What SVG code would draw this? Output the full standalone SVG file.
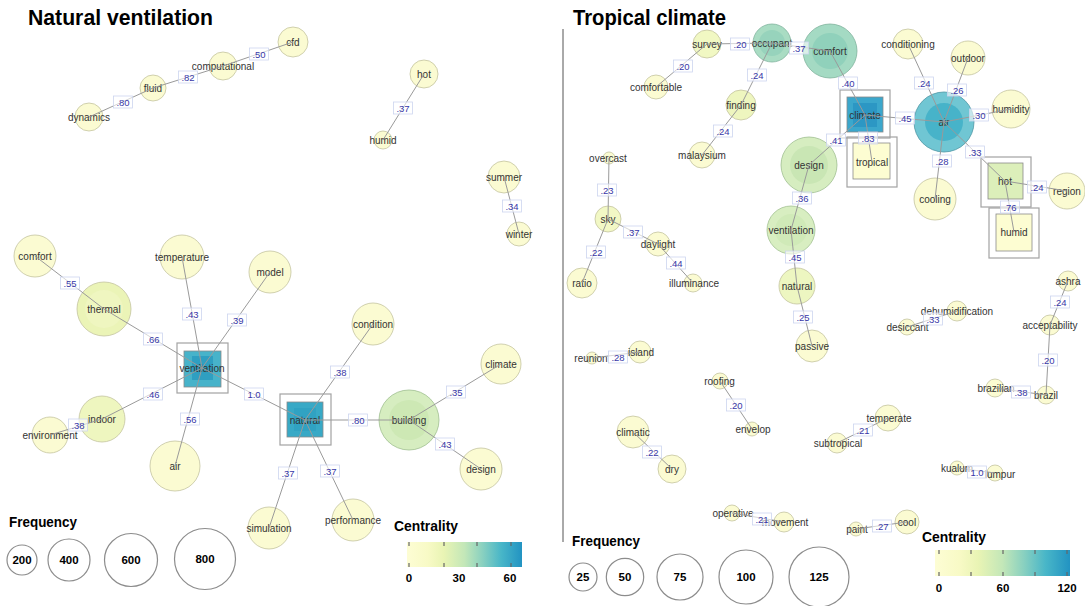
<svg xmlns="http://www.w3.org/2000/svg" width="1085" height="606" viewBox="0 0 1085 606">
  <defs>
    <linearGradient id="cent" x1="0" y1="0" x2="1" y2="0">
      <stop offset="0" stop-color="#fdfdd4"/>
      <stop offset="0.18" stop-color="#f8fac6"/>
      <stop offset="0.32" stop-color="#e9f4b4"/>
      <stop offset="0.5" stop-color="#c3e7b8"/>
      <stop offset="0.66" stop-color="#88d0c0"/>
      <stop offset="0.82" stop-color="#48b6c8"/>
      <stop offset="1" stop-color="#2293c2"/>
    </linearGradient>
    <style>
      .e { stroke:#9a9a9a; stroke-width:1; fill:none; }
      .n { fill:#fbfbd2; stroke:#c4c4a0; stroke-width:0.8; }
      .in { stroke:none; }
      .fr { fill:none; stroke:#a2a2a2; stroke-width:1.2; }
      .sq { stroke:#8a8a8a; stroke-width:0.8; }
      .t { font-family:"Liberation Sans",Arial,sans-serif; font-size:10px; fill:#333; text-anchor:middle; }
      .lb rect { fill:#ffffff; fill-opacity:0.6; stroke:#cdd5ef; stroke-width:0.8; }
      .lb text { font-family:"Liberation Sans",Arial,sans-serif; font-size:9.5px; fill:#3838a8; text-anchor:middle; }
      .title { font-family:"Liberation Sans",Arial,sans-serif; font-weight:bold; font-size:21.5px; fill:#000; }
      .lg { font-family:"Liberation Sans",Arial,sans-serif; font-weight:bold; font-size:14.5px; fill:#000; }
      .lgn { font-family:"Liberation Sans",Arial,sans-serif; font-weight:bold; font-size:11.5px; fill:#000; text-anchor:middle; }
      .lc { fill:#fff; stroke:#8c8c8c; stroke-width:1.2; }
      .tk { stroke:#666; stroke-width:1.2; }
    </style>
  </defs>

  <rect width="1085" height="606" fill="#ffffff"/>

  <!-- titles and divider -->
  <text class="title" x="28" y="25" textLength="185" lengthAdjust="spacingAndGlyphs">Natural ventilation</text>
  <text class="title" x="573" y="25" textLength="153" lengthAdjust="spacingAndGlyphs">Tropical climate</text>
  <line x1="563" y1="29" x2="563" y2="542" stroke="#555" stroke-width="1"/>

  <!-- ===== left network: nodes ===== -->
  <g id="nodes-left">
    <g id="n-cfd"><circle class="n" cx="293" cy="42" r="15"/><text class="t" x="293" y="45.5">cfd</text></g>
    <g id="n-computational"><circle class="n" cx="223" cy="66" r="14"/><text class="t" x="223" y="69.5">computational</text></g>
    <g id="n-fluid"><circle class="n" cx="153" cy="88" r="13"/><text class="t" x="153" y="91.5">fluid</text></g>
    <g id="n-dynamics"><circle class="n" cx="89" cy="117" r="14"/><text class="t" x="89" y="120.5">dynamics</text></g>
    <g id="n-hot"><circle class="n" cx="424" cy="74" r="14"/><text class="t" x="424" y="77.5">hot</text></g>
    <g id="n-humid"><circle class="n" cx="383" cy="140" r="9"/><text class="t" x="383" y="143.5">humid</text></g>
    <g id="n-summer"><circle class="n" cx="504" cy="177" r="16"/><text class="t" x="504" y="180.5">summer</text></g>
    <g id="n-winter"><circle class="n" cx="519" cy="234" r="12"/><text class="t" x="519" y="237.5">winter</text></g>
    <g id="n-comfort"><circle class="n" cx="35" cy="256" r="21"/><text class="t" x="35" y="259.5">comfort</text></g>
    <g id="n-thermal"><circle class="n" cx="104" cy="309" r="27" style="fill:#ebf4b7"/><circle class="in" cx="104" cy="309" r="19" fill="#eff6c0"/><text class="t" x="104" y="312.5">thermal</text></g>
    <g id="n-temperature"><circle class="n" cx="182" cy="257" r="22"/><text class="t" x="182" y="260.5">temperature</text></g>
    <g id="n-model"><circle class="n" cx="270" cy="272" r="21"/><text class="t" x="270" y="275.5">model</text></g>
    <g id="n-indoor"><circle class="n" cx="102" cy="419" r="23" style="fill:#eef6bf"/><text class="t" x="102" y="422.5">indoor</text></g>
    <g id="n-environment"><circle class="n" cx="50" cy="435" r="18"/><text class="t" x="50" y="438.5">environment</text></g>
    <g id="n-air"><circle class="n" cx="175" cy="466" r="25"/><text class="t" x="175" y="469.5">air</text></g>
    <g id="n-condition"><circle class="n" cx="373" cy="324" r="21"/><text class="t" x="373" y="327.5">condition</text></g>
    <g id="n-climate"><circle class="n" cx="501" cy="364" r="20"/><text class="t" x="501" y="367.5">climate</text></g>
    <g id="n-building"><circle class="n" cx="409" cy="420" r="30" style="fill:#d6edc0;stroke:#9fbf90"/><circle class="in" cx="409" cy="420" r="20" fill="#cde8b4"/><text class="t" x="409" y="423.5">building</text></g>
    <g id="n-design"><circle class="n" cx="481" cy="469" r="21"/><text class="t" x="481" y="472.5">design</text></g>
    <g id="n-simulation"><circle class="n" cx="269" cy="528" r="21"/><text class="t" x="269" y="531.5">simulation</text></g>
    <g id="n-performance"><circle class="n" cx="353" cy="520" r="21"/><text class="t" x="353" y="523.5">performance</text></g>
    <g id="n-ventilation">
      <rect class="fr" x="177" y="343" width="51" height="50"/>
      <rect class="sq" x="184" y="351" width="37" height="36" fill="#47b3ca"/>
      <rect class="in" x="192" y="356" width="21" height="24" fill="#2f9fc1"/>
      <text class="t" x="202" y="372">ventilation</text>
    </g>
    <g id="n-natural">
      <rect class="fr" x="280" y="394" width="51" height="51"/>
      <rect class="sq" x="287" y="402" width="36" height="35" fill="#38a9c6"/>
      <rect class="in" x="294" y="408" width="22" height="23" fill="#30a2c2"/>
      <text class="t" x="305" y="423.5">natural</text>
    </g>
  </g>

  <!-- ===== right network: nodes ===== -->
  <g id="nodes-right">
    <g id="n2-survey"><circle class="n" cx="707" cy="44" r="14" style="fill:#f1f8c3"/><text class="t" x="707" y="47.5">survey</text></g>
    <g id="n2-occupant"><circle class="n" cx="772" cy="43" r="19" style="fill:#a9dcc3;stroke:#82b49e"/><circle class="in" cx="772" cy="43" r="13" fill="#97d3bc"/><text class="t" x="772" y="46.5">occupant</text></g>
    <g id="n2-comfortable"><circle class="n" cx="656" cy="87" r="12"/><text class="t" x="656" y="90.5">comfortable</text></g>
    <g id="n2-finding"><circle class="n" cx="741" cy="105" r="15" style="fill:#eef6bf"/><text class="t" x="741" y="108.5">finding</text></g>
    <g id="n2-malaysium"><circle class="n" cx="702" cy="155" r="13"/><text class="t" x="702" y="158.5">malaysium</text></g>
    <g id="n2-overcast"><circle class="n" cx="609" cy="158" r="6"/><text class="t" x="608" y="161.5">overcast</text></g>
    <g id="n2-comfort"><circle class="n" cx="830" cy="51" r="27" style="fill:#a4dac3;stroke:#7fb39c"/><circle class="in" cx="830" cy="51" r="18" fill="#90d1bb"/><text class="t" x="830" y="54.5">comfort</text></g>
    <g id="n2-conditioning"><circle class="n" cx="908" cy="44" r="15"/><text class="t" x="908" y="47.5">conditioning</text></g>
    <g id="n2-outdoor"><circle class="n" cx="968" cy="58" r="17"/><text class="t" x="968" y="61.5">outdoor</text></g>
    <g id="n2-humidity"><circle class="n" cx="1011" cy="109" r="19"/><text class="t" x="1011" y="112.5">humidity</text></g>
    <g id="n2-air"><circle class="n" cx="944" cy="122" r="30" style="fill:#70c6d3;stroke:#4f97a5"/><circle class="in" cx="944" cy="122" r="19" fill="#47b3c9"/><text class="t" x="944" y="125.5">air</text></g>
    <g id="n2-design"><circle class="n" cx="809" cy="165" r="28" style="fill:#d6edc0;stroke:#9fbf90"/><circle class="in" cx="809" cy="165" r="19" fill="#c9e6b4"/><text class="t" x="809" y="168.5">design</text></g>
    <g id="n2-cooling"><circle class="n" cx="935" cy="199" r="21"/><text class="t" x="935" y="202.5">cooling</text></g>
    <g id="n2-region"><circle class="n" cx="1067" cy="191" r="18"/><text class="t" x="1067" y="194.5">region</text></g>
    <g id="n2-ventilation"><circle class="n" cx="791" cy="230" r="24" style="fill:#d8eec1;stroke:#a3c293"/><circle class="in" cx="791" cy="230" r="16" fill="#d0eab8"/><text class="t" x="791" y="233.5">ventilation</text></g>
    <g id="n2-natural"><circle class="n" cx="797" cy="286" r="18" style="fill:#edf6c1"/><text class="t" x="797" y="289.5">natural</text></g>
    <g id="n2-passive"><circle class="n" cx="812" cy="346" r="16"/><text class="t" x="812" y="349.5">passive</text></g>
    <g id="n2-sky"><circle class="n" cx="608" cy="219" r="13" style="fill:#f2f8c5"/><text class="t" x="608" y="222.5">sky</text></g>
    <g id="n2-ratio"><circle class="n" cx="582" cy="283" r="15"/><text class="t" x="582" y="286.5">ratio</text></g>
    <g id="n2-daylight"><circle class="n" cx="658" cy="244" r="12"/><text class="t" x="658" y="247.5">daylight</text></g>
    <g id="n2-illuminance"><circle class="n" cx="693" cy="283" r="9"/><text class="t" x="694" y="286.5">illuminance</text></g>
    <g id="n2-reunion"><circle class="n" cx="592" cy="358" r="6"/><text class="t" x="591" y="361.5">reunion</text></g>
    <g id="n2-island"><circle class="n" cx="640" cy="352" r="11"/><text class="t" x="641" y="355.5">island</text></g>
    <g id="n2-roofing"><circle class="n" cx="720" cy="381" r="8"/><text class="t" x="719.5" y="384.5">roofing</text></g>
    <g id="n2-envelop"><circle class="n" cx="752" cy="429" r="7"/><text class="t" x="753" y="432.5">envelop</text></g>
    <g id="n2-climatic"><circle class="n" cx="633" cy="432" r="16"/><text class="t" x="633" y="435.5">climatic</text></g>
    <g id="n2-dry"><circle class="n" cx="672" cy="469" r="14"/><text class="t" x="672" y="472.5">dry</text></g>
    <g id="n2-subtropical"><circle class="n" cx="837" cy="443" r="10"/><text class="t" x="838" y="446.5">subtropical</text></g>
    <g id="n2-temperate"><circle class="n" cx="888" cy="418" r="13"/><text class="t" x="889" y="421.5">temperate</text></g>
    <g id="n2-desiccant"><circle class="n" cx="907" cy="327" r="8"/><text class="t" x="907.5" y="330.5">desiccant</text></g>
    <g id="n2-dehumidification"><circle class="n" cx="957" cy="311" r="10"/><text class="t" x="957" y="314.5">dehumidification</text></g>
    <g id="n2-ashra"><circle class="n" cx="1068" cy="281" r="10"/><text class="t" x="1068" y="284.5">ashra</text></g>
    <g id="n2-acceptability"><circle class="n" cx="1050" cy="325" r="10"/><text class="t" x="1050" y="328.5">acceptability</text></g>
    <g id="n2-brazilian"><circle class="n" cx="995" cy="388" r="9"/><text class="t" x="996" y="391.5">brazilian</text></g>
    <g id="n2-brazil"><circle class="n" cx="1046" cy="395" r="9"/><text class="t" x="1046" y="398.5">brazil</text></g>
    <g id="n2-kualum"><circle class="n" cx="957" cy="468" r="7"/><text class="t" x="957" y="471.5">kualum</text></g>
    <g id="n2-lumpur"><circle class="n" cx="995" cy="473" r="8"/><text class="t" x="1000" y="478">lumpur</text></g>
    <g id="n2-operative"><circle class="n" cx="732" cy="513" r="8"/><text class="t" x="733" y="516.5">operative</text></g>
    <g id="n2-movement"><circle class="n" cx="784" cy="522" r="10"/><text class="t" x="785" y="525.5">movement</text></g>
    <g id="n2-paint"><circle class="n" cx="856" cy="529" r="7"/><text class="t" x="857" y="532.5">paint</text></g>
    <g id="n2-cool"><circle class="n" cx="907" cy="522" r="12"/><text class="t" x="907" y="525.5">cool</text></g>
    <g id="n2-climate">
      <rect class="fr" x="840" y="90" width="50" height="48"/>
      <rect class="sq" x="847" y="97" width="36" height="35" fill="#3ba7cc"/>
      <rect class="in" x="853" y="103" width="24" height="24" fill="#2c97c4"/>
      <text class="t" x="865" y="118.5">climate</text>
    </g>
    <g id="n2-tropical">
      <rect class="fr" x="847" y="137" width="50" height="50"/>
      <rect class="sq" x="853" y="143" width="37" height="36" fill="#fdfdd2"/>
      <text class="t" x="872" y="165.5">tropical</text>
    </g>
    <g id="n2-hot">
      <rect class="fr" x="981" y="157" width="50" height="50"/>
      <rect class="sq" x="988" y="163" width="35" height="36" fill="#dcefba"/>
      <text class="t" x="1005" y="184.5">hot</text>
    </g>
    <g id="n2-humid">
      <rect class="fr" x="989" y="208" width="50" height="50"/>
      <rect class="sq" x="996" y="214" width="36" height="37" fill="#fdfdd2"/>
      <text class="t" x="1014" y="235.5">humid</text>
    </g>
  </g>

  <!-- ===== connectors ===== -->
  <g id="connectors">
    <g id="edges-left" class="e">
      <line x1="89" y1="117" x2="153" y2="88"/>
      <line x1="153" y1="88" x2="223" y2="66"/>
      <line x1="223" y1="66" x2="293" y2="42"/>
      <line x1="424" y1="74" x2="383" y2="140"/>
      <line x1="504" y1="177" x2="519" y2="234"/>
      <line x1="35" y1="256" x2="104" y2="309"/>
      <line x1="104" y1="309" x2="202" y2="368"/>
      <line x1="182" y1="257" x2="202" y2="368"/>
      <line x1="270" y1="272" x2="202" y2="368"/>
      <line x1="102" y1="419" x2="202" y2="368"/>
      <line x1="50" y1="435" x2="102" y2="419"/>
      <line x1="175" y1="466" x2="202" y2="368"/>
      <line x1="202" y1="368" x2="305" y2="420"/>
      <line x1="305" y1="420" x2="373" y2="324"/>
      <line x1="305" y1="420" x2="409" y2="420"/>
      <line x1="305" y1="420" x2="269" y2="528"/>
      <line x1="305" y1="420" x2="353" y2="520"/>
      <line x1="409" y1="420" x2="501" y2="364"/>
      <line x1="409" y1="420" x2="481" y2="469"/>
    </g>
    <g id="edges-right" class="e">
      <line x1="707" y1="44" x2="772" y2="43"/>
      <line x1="772" y1="43" x2="830" y2="51"/>
      <line x1="707" y1="44" x2="656" y2="87"/>
      <line x1="772" y1="43" x2="741" y2="105"/>
      <line x1="741" y1="105" x2="702" y2="155"/>
      <line x1="830" y1="51" x2="865" y2="115"/>
      <line x1="865" y1="115" x2="944" y2="122"/>
      <line x1="865" y1="115" x2="809" y2="165"/>
      <line x1="865" y1="115" x2="872" y2="162"/>
      <line x1="944" y1="122" x2="908" y2="44"/>
      <line x1="944" y1="122" x2="968" y2="58"/>
      <line x1="944" y1="122" x2="1011" y2="109"/>
      <line x1="944" y1="122" x2="1005" y2="181"/>
      <line x1="944" y1="122" x2="935" y2="199"/>
      <line x1="1005" y1="181" x2="1067" y2="191"/>
      <line x1="1005" y1="181" x2="1014" y2="232"/>
      <line x1="809" y1="165" x2="791" y2="230"/>
      <line x1="791" y1="230" x2="797" y2="286"/>
      <line x1="797" y1="286" x2="812" y2="346"/>
      <line x1="609" y1="158" x2="608" y2="219"/>
      <line x1="608" y1="219" x2="582" y2="283"/>
      <line x1="608" y1="219" x2="658" y2="244"/>
      <line x1="658" y1="244" x2="693" y2="283"/>
      <line x1="592" y1="358" x2="640" y2="352"/>
      <line x1="720" y1="381" x2="752" y2="429"/>
      <line x1="633" y1="432" x2="672" y2="469"/>
      <line x1="837" y1="443" x2="888" y2="418"/>
      <line x1="907" y1="327" x2="957" y2="311"/>
      <line x1="1068" y1="281" x2="1050" y2="325"/>
      <line x1="1050" y1="325" x2="1046" y2="395"/>
      <line x1="995" y1="388" x2="1046" y2="395"/>
      <line x1="957" y1="468" x2="995" y2="473"/>
      <line x1="732" y1="513" x2="784" y2="522"/>
      <line x1="856" y1="529" x2="907" y2="522"/>
    </g>

    <!-- edge weight labels -->
    <g id="weights-left" class="lb">
      <g><rect x="113.5" y="96" width="19" height="12"/><text x="123" y="105.5">.80</text></g>
      <g><rect x="178.5" y="71" width="19" height="12"/><text x="188" y="80.5">.82</text></g>
      <g><rect x="249.5" y="48" width="19" height="12"/><text x="259" y="57.5">.50</text></g>
      <g><rect x="393.5" y="102" width="19" height="12"/><text x="403" y="111.5">.37</text></g>
      <g><rect x="502.5" y="200" width="19" height="12"/><text x="512" y="209.5">.34</text></g>
      <g><rect x="60.5" y="277" width="19" height="12"/><text x="70" y="286.5">.55</text></g>
      <g><rect x="143.5" y="333" width="19" height="12"/><text x="153" y="342.5">.66</text></g>
      <g><rect x="182.5" y="308" width="19" height="12"/><text x="192" y="317.5">.43</text></g>
      <g><rect x="227.5" y="314" width="19" height="12"/><text x="237" y="323.5">.39</text></g>
      <g><rect x="143.5" y="388" width="19" height="12"/><text x="153" y="397.5">.46</text></g>
      <g><rect x="68.5" y="419" width="19" height="12"/><text x="78" y="428.5">.38</text></g>
      <g><rect x="180.5" y="413" width="19" height="12"/><text x="190" y="422.5">.56</text></g>
      <g><rect x="244.5" y="388" width="19" height="12"/><text x="254" y="397.5">1.0</text></g>
      <g><rect x="330.5" y="366" width="19" height="12"/><text x="340" y="375.5">.38</text></g>
      <g><rect x="348.5" y="414" width="19" height="12"/><text x="358" y="423.5">.80</text></g>
      <g><rect x="446.5" y="386" width="19" height="12"/><text x="456" y="395.5">.35</text></g>
      <g><rect x="435.5" y="438" width="19" height="12"/><text x="445" y="447.5">.43</text></g>
      <g><rect x="278.5" y="467" width="19" height="12"/><text x="288" y="476.5">.37</text></g>
      <g><rect x="320.5" y="465" width="19" height="12"/><text x="330" y="474.5">.37</text></g>
    </g>
    <g id="weights-right" class="lb">
      <g><rect x="730.5" y="38" width="19" height="12"/><text x="740" y="47.5">.20</text></g>
      <g><rect x="789.5" y="42" width="19" height="12"/><text x="799" y="51.5">.37</text></g>
      <g><rect x="673.5" y="60" width="19" height="12"/><text x="683" y="69.5">.20</text></g>
      <g><rect x="747.5" y="69" width="19" height="12"/><text x="757" y="78.5">.24</text></g>
      <g><rect x="713.5" y="125" width="19" height="12"/><text x="723" y="134.5">.24</text></g>
      <g><rect x="838.5" y="77" width="19" height="12"/><text x="848" y="86.5">.40</text></g>
      <g><rect x="895.5" y="112" width="19" height="12"/><text x="905" y="121.5">.45</text></g>
      <g><rect x="914.5" y="77" width="19" height="12"/><text x="924" y="86.5">.24</text></g>
      <g><rect x="947.5" y="84" width="19" height="12"/><text x="957" y="93.5">.26</text></g>
      <g><rect x="969.5" y="109" width="19" height="12"/><text x="979" y="118.5">.30</text></g>
      <g><rect x="826.5" y="134" width="19" height="12"/><text x="836" y="143.5">.41</text></g>
      <g><rect x="858.5" y="132" width="19" height="12"/><text x="868" y="141.5">.83</text></g>
      <g><rect x="965.5" y="146" width="19" height="12"/><text x="975" y="155.5">.33</text></g>
      <g><rect x="932.5" y="155" width="19" height="12"/><text x="942" y="164.5">.28</text></g>
      <g><rect x="1027.5" y="181" width="19" height="12"/><text x="1037" y="190.5">.24</text></g>
      <g><rect x="1000.5" y="201" width="19" height="12"/><text x="1010" y="210.5">.76</text></g>
      <g><rect x="792.5" y="192" width="19" height="12"/><text x="802" y="201.5">.36</text></g>
      <g><rect x="785.5" y="251" width="19" height="12"/><text x="795" y="260.5">.45</text></g>
      <g><rect x="793.5" y="311" width="19" height="12"/><text x="803" y="320.5">.25</text></g>
      <g><rect x="597.5" y="184" width="19" height="12"/><text x="607" y="193.5">.23</text></g>
      <g><rect x="586.5" y="246" width="19" height="12"/><text x="596" y="255.5">.22</text></g>
      <g><rect x="623.5" y="226" width="19" height="12"/><text x="633" y="235.5">.37</text></g>
      <g><rect x="666.5" y="257" width="19" height="12"/><text x="676" y="266.5">.44</text></g>
      <g><rect x="608.5" y="351" width="19" height="12"/><text x="618" y="360.5">.28</text></g>
      <g><rect x="726.5" y="399" width="19" height="12"/><text x="736" y="408.5">.20</text></g>
      <g><rect x="642.5" y="446" width="19" height="12"/><text x="652" y="455.5">.22</text></g>
      <g><rect x="853.5" y="424" width="19" height="12"/><text x="863" y="433.5">.21</text></g>
      <g><rect x="923.5" y="313" width="19" height="12"/><text x="933" y="322.5">.33</text></g>
      <g><rect x="1050.5" y="296" width="19" height="12"/><text x="1060" y="305.5">.24</text></g>
      <g><rect x="1038.5" y="354" width="19" height="12"/><text x="1048" y="363.5">.20</text></g>
      <g><rect x="1011.5" y="386" width="19" height="12"/><text x="1021" y="395.5">.38</text></g>
      <g><rect x="967.5" y="466" width="19" height="12"/><text x="977" y="475.5">1.0</text></g>
      <g><rect x="752.5" y="513" width="19" height="12"/><text x="762" y="522.5">.21</text></g>
      <g><rect x="872.5" y="520" width="19" height="12"/><text x="882" y="529.5">.27</text></g>
    </g>
  </g>

  <!-- ===== legends ===== -->
  <g id="legend-left">
    <text class="lg" x="9" y="527" textLength="68" lengthAdjust="spacingAndGlyphs">Frequency</text>
    <circle class="lc" cx="22" cy="560" r="15"/><text class="lgn" x="22" y="564">200</text>
    <circle class="lc" cx="69" cy="560" r="21"/><text class="lgn" x="69" y="564">400</text>
    <circle class="lc" cx="131" cy="560" r="26.5"/><text class="lgn" x="131" y="564">600</text>
    <circle class="lc" cx="205" cy="559" r="30.5"/><text class="lgn" x="205" y="563">800</text>
    <text class="lg" x="394" y="531" textLength="64" lengthAdjust="spacingAndGlyphs">Centrality</text>
    <rect x="407" y="542" width="115" height="25" fill="url(#cent)"/>
    <g class="tk">
      <line x1="409" y1="542" x2="409" y2="546"/><line x1="409" y1="563" x2="409" y2="567"/>
      <line x1="444" y1="542" x2="444" y2="546"/><line x1="444" y1="563" x2="444" y2="567"/>
      <line x1="477" y1="542" x2="477" y2="546"/><line x1="477" y1="563" x2="477" y2="567"/>
      <line x1="511" y1="542" x2="511" y2="546"/><line x1="511" y1="563" x2="511" y2="567"/>
    </g>
    <text class="lgn" x="409" y="582">0</text>
    <text class="lgn" x="459" y="582">30</text>
    <text class="lgn" x="510" y="582">60</text>
  </g>

  <g id="legend-right">
    <text class="lg" x="572" y="546" textLength="68" lengthAdjust="spacingAndGlyphs">Frequency</text>
    <circle class="lc" cx="583" cy="577" r="14"/><text class="lgn" x="583" y="581">25</text>
    <circle class="lc" cx="625" cy="577" r="18.7"/><text class="lgn" x="625" y="581">50</text>
    <circle class="lc" cx="680" cy="577" r="23"/><text class="lgn" x="680" y="581">75</text>
    <circle class="lc" cx="746" cy="577" r="27"/><text class="lgn" x="746" y="581">100</text>
    <circle class="lc" cx="819" cy="577" r="30"/><text class="lgn" x="819" y="581">125</text>
    <text class="lg" x="922" y="542" textLength="64" lengthAdjust="spacingAndGlyphs">Centrality</text>
    <rect x="935" y="550" width="135" height="26" fill="url(#cent)"/>
    <g class="tk">
      <line x1="939" y1="550" x2="939" y2="554"/><line x1="939" y1="572" x2="939" y2="576"/>
      <line x1="971" y1="550" x2="971" y2="554"/><line x1="971" y1="572" x2="971" y2="576"/>
      <line x1="1003" y1="550" x2="1003" y2="554"/><line x1="1003" y1="572" x2="1003" y2="576"/>
      <line x1="1035" y1="550" x2="1035" y2="554"/><line x1="1035" y1="572" x2="1035" y2="576"/>
      <line x1="1067" y1="550" x2="1067" y2="554"/><line x1="1067" y1="572" x2="1067" y2="576"/>
    </g>
    <text class="lgn" x="939" y="592">0</text>
    <text class="lgn" x="1003" y="592">60</text>
    <text class="lgn" x="1067" y="592">120</text>
  </g>
</svg>
